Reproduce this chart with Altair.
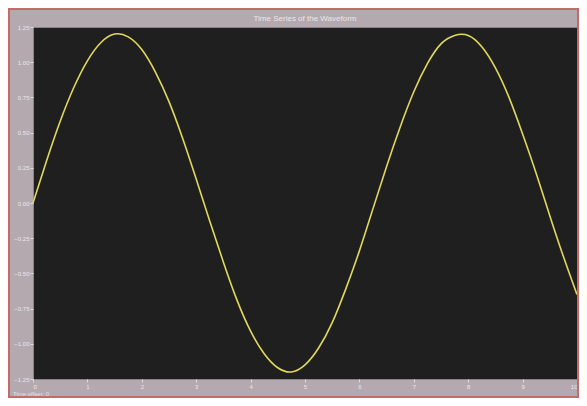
import altair as alt
import pandas as pd

# time (s) and signal values
t_values = [0.0, 0.25, 0.5, 0.75, 1.0, 1.25, 1.5, 1.75, 2.0, 2.25, 2.5, 2.75, 3.0,
            3.25, 3.5, 3.75, 4.0, 4.25, 4.5, 4.75, 5.0, 5.25, 5.5, 5.75, 6.0, 6.25,
            6.5, 6.75, 7.0, 7.25, 7.5, 7.75, 8.0, 8.25, 8.5, 8.75, 9.0, 9.25, 9.5,
            9.75, 10.0]
y_values = [0.0, 0.30, 0.58, 0.82, 1.01, 1.14, 1.20, 1.18, 1.09, 0.93, 0.72, 0.46, 0.17,
            -0.13, -0.42, -0.69, -0.91, -1.07, -1.17, -1.20, -1.15, -1.03, -0.85, -0.61,
            -0.34, -0.04, 0.26, 0.54, 0.79, 0.99, 1.13, 1.19, 1.19, 1.11, 0.96, 0.75,
            0.49, 0.21, -0.09, -0.38, -0.65]

x_ticks = [0, 1, 2, 3, 4, 5, 6, 7, 8, 9, 10]
y_ticks = [-1.25, -1.0, -0.75, -0.5, -0.25, 0.0, 0.25, 0.5, 0.75, 1.0, 1.25]

title_text = "Time Series of the Waveform"
footer_text = "Time offset: 0"

df = pd.DataFrame({"t": t_values, "y": y_values})

W, H = 544, 352
PAD_L, PAD_T, PAD_R, PAD_B = 25, 19, 2, 19

line = alt.Chart(df).mark_line(color="#e2d85a", strokeWidth=1.6, interpolate="natural").encode(
    x=alt.X("t:Q", scale=alt.Scale(domain=[0, 10], nice=False),
            axis=alt.Axis(values=x_ticks, title=None, format="d")),
    y=alt.Y("y:Q", scale=alt.Scale(domain=[-1.25, 1.25], nice=False),
            axis=alt.Axis(values=y_ticks, title=None, format=".2f")),
)

border = alt.Chart(pd.DataFrame({"k": [0]})).mark_rect(
    fill=None, stroke="#c46a6a", strokeWidth=2, clip=False
).encode(
    x=alt.value(-PAD_L + 1), x2=alt.value(W + PAD_R - 1),
    y=alt.value(-PAD_T + 1), y2=alt.value(H + PAD_B - 1),
)

title = alt.Chart(pd.DataFrame({"txt": [title_text]})).mark_text(
    align="center", baseline="middle", fontSize=8, color="#ece8ea", clip=False,
    font="Liberation Sans"
).encode(
    x=alt.value(W / 2), y=alt.value(-8), text="txt:N"
)

footer = alt.Chart(pd.DataFrame({"txt": [footer_text]})).mark_text(
    align="left", baseline="bottom", fontSize=6, color="#e6e2e4", clip=False,
    font="Liberation Sans"
).encode(
    x=alt.value(-PAD_L + 5), y=alt.value(H + PAD_B - 1), text="txt:N"
)

chart = alt.layer(line, border, title, footer).properties(
    width=W, height=H,
    autosize=alt.AutoSizeParams(type="none"),
    padding={"left": PAD_L, "top": PAD_T, "right": PAD_R, "bottom": PAD_B},
).configure(
    background="#b3a9ae",
).configure_view(
    fill="#1f1f1f", stroke="#8a8488", strokeWidth=1,
).configure_axis(
    labelFontSize=6, labelColor="#ebe7e9", labelFont="Liberation Sans",
    tickColor="#e0dcde", tickSize=3, domain=False, grid=False, labelPadding=1,
)

chart.save("out.html", embed_options={"renderer": "svg", "actions": False})
